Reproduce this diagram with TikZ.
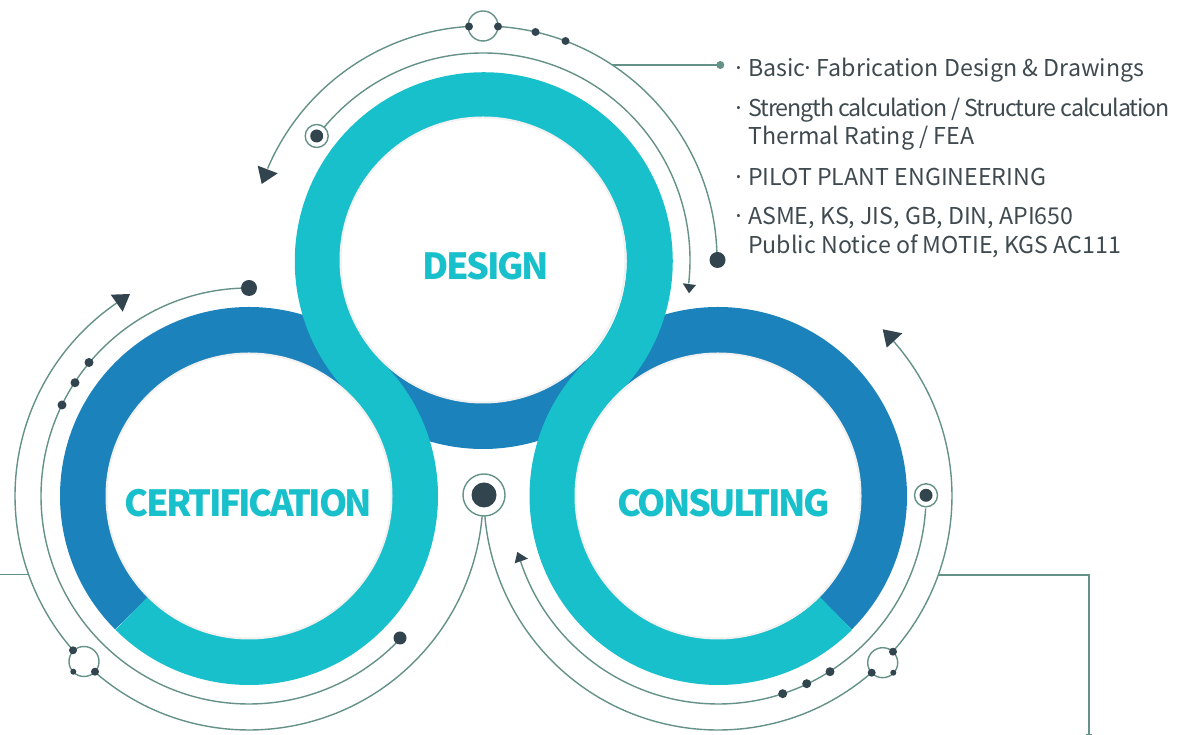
\documentclass[tikz,border=0pt]{standalone}
\usepackage{fontspec}
\setmainfont{Noto Sans CJK KR}
\newfontfamily\titlefont{Noto Sans CJK KR}[LetterSpace=-6.9]
\newfontfamily\tightfont{Noto Sans CJK KR}[LetterSpace=-4.7]
\definecolor{teal1}{HTML}{18C0CB}
\definecolor{blue1}{HTML}{1C82BB}
\definecolor{lineg}{HTML}{649188}
\definecolor{darkd}{HTML}{32454F}
\definecolor{txt}{HTML}{3F4A50}
\definecolor{rimg}{HTML}{F1F1F1}
\tikzset{
  ringblue/.style={draw=blue1,line width=46pt,line cap=butt},
  ringteal/.style={draw=teal1,line width=46pt,line cap=butt},
  core/.style={circle,fill=white,draw=rimg,line width=2pt,minimum size=285pt,inner sep=0pt},
  wire/.style={draw=lineg,line width=1.4pt},
  lead/.style={draw=lineg,line width=1.6pt},
  dotk/.style={fill=darkd,draw=none},
  title/.style={text=teal1,font=\titlefont\bfseries\fontsize{36}{36}\selectfont,inner sep=0pt,anchor=center},
  body/.style={text=txt,font=\fontsize{23.2}{29.5}\selectfont,inner sep=0pt,anchor=base west,align=left},
}
\begin{document}
\begin{tikzpicture}[x=1pt,y=1pt]
\useasboundingbox (0,0) rectangle (1177,735);
\coordinate (D) at (483,475);
\coordinate (C) at (249,239);
\coordinate (K) at (718,239);
% blue parts
\draw[ringblue] (C) ++(225:166) arc[start angle=225,end angle=45,radius=166];
\draw[ringblue] (K) ++(-45:166) arc[start angle=-45,end angle=135,radius=166];
\draw[ringblue] (D) ++(225:166) arc[start angle=225,end angle=315,radius=166];
% teal band
\draw[ringteal] (C) ++(225:166) arc[start angle=225,end angle=405,radius=166]
  arc[start angle=225,end angle=-45,radius=166]
  arc[start angle=135,end angle=315,radius=166];
\node[core] (coreD) at (D) {};
\node[core] (coreC) at (C) {};
\node[core] (coreK) at (K) {};
\node[title] (tD) at (485.5,468.5) {DESIGN};
\node[title] (tC) at (248.5,231.5) {CERTIFICATION};
\node[title] (tK) at (723.5,231.5) {CONSULTING};
% Design arcs
\draw[wire] (D) ++(93.6:234) arc[start angle=93.6,end angle=157,radius=234];
\draw[wire] (D) ++(86.4:234) arc[start angle=86.4,end angle=0,radius=234];
\draw[wire] (D) ++(140:207) arc[start angle=140,end angle=-6.5,radius=207];
\draw[wire] (483,709) circle[radius=15];
\fill[dotk] (469,708.5) circle[radius=4] (498,708.5) circle[radius=4] (535.5,703) circle[radius=4] (565.5,694) circle[radius=4];
\fill[dotk] (717.5,475) circle[radius=8];
\fill[darkd] (257.7,569.3) -- (277.7,561.7) -- (261.7,551) -- cycle;
\fill[darkd] (682.7,451.7) -- (696,450) -- (689,441.7) -- cycle;
\draw[wire,fill=white] (316.7,599) circle[radius=11.5];
\fill[dotk] (316.7,599) circle[radius=6.5];
\coordinate (leadA) at (612,670);
\coordinate (leadB) at (720.3,670);
\draw[lead] (leadA) -- (leadB);
\fill[lineg] (leadB) circle[radius=4];
% Certification arcs
\draw[wire] (C) ++(90:208) arc[start angle=90,end angle=317,radius=208];
\draw[wire] (C) ++(124.5:234) arc[start angle=124.5,end angle=221.2,radius=234];
\draw[wire] (C) ++(228.8:234) arc[start angle=228.8,end angle=355,radius=234];
\fill[dotk] (249,447) circle[radius=8];
\fill[dotk] (400,97) circle[radius=6.5];
\fill[dotk] (89,372.5) circle[radius=4.5] (75,352.3) circle[radius=4.5] (62,330) circle[radius=4.5];
\fill[darkd] (110.7,440.3) -- (130,441) -- (122.7,423.3) -- cycle;
\draw[wire] (84,73.5) circle[radius=15];
\fill[dotk] (73,84.7) circle[radius=4] (95,63.3) circle[radius=4] (73.3,63.3) circle[radius=3];
\coordinate (leadC) at (0,160.5);
\coordinate (leadD) at (28,160.5);
\draw[lead] (leadC) -- (leadD);
% Consulting arcs
\draw[wire] (K) ++(41.4:234) arc[start angle=41.4,end angle=-41.7,radius=234];
\draw[wire] (K) ++(-49:234) arc[start angle=-49,end angle=-175,radius=234];
\draw[wire] (K) ++(-3.4:208) arc[start angle=-3.4,end angle=-161.7,radius=208];
\fill[dotk] (830,63.3) circle[radius=4.5] (806.7,51.3) circle[radius=4.5] (782.7,41.3) circle[radius=4.5];
\fill[darkd] (882.7,405.7) -- (902.3,401.7) -- (886.7,387.3) -- cycle;
\fill[darkd] (517.3,183) -- (528,176.3) -- (514.7,171.7) -- cycle;
\draw[wire,fill=white] (926,239.7) circle[radius=11.5];
\fill[dotk] (926,239.7) circle[radius=6.5];
\draw[wire] (882.7,72.3) circle[radius=15];
\fill[dotk] (893,83.3) circle[radius=4] (871.7,62.3) circle[radius=4] (893.3,62.3) circle[radius=3];
\coordinate (leadE) at (939.3,160);
\coordinate (leadF) at (1089,160);
\coordinate (leadG) at (1089,0.5);
\draw[lead] (leadE) -- (leadF) -- (leadG);
\draw[lead] (1086,0.5) -- (1092,0.5);
% Centre marker
\draw[wire,fill=white] (484,240) circle[radius=21];
\fill[dotk] (484,240) circle[radius=12.5];
% text
\node[body] (b0) at (732,658.5) {·};
\node[body] (b1) at (748,658.5) {Basic\kern-4pt·\kern-3pt\ Fabrication Design \& Drawings};
\node[body] (b0b) at (732,618.5) {·};
\node[body] (b2) at (748,618.5) {\tightfont Strength calculation / Structure calculation};
\node[body] (b2b) at (748,590) {Thermal Rating / FEA};
\node[body] (b0c) at (732,549.7) {·};
\node[body] (b3) at (748,549.7) {PILOT PLANT ENGINEERING};
\node[body] (b0d) at (732,510) {·};
\node[body] (b4) at (748,510) {ASME, KS, JIS, GB, DIN, API650};
\node[body] (b4b) at (748,481.7) {Public Notice of MOTIE, KGS AC111};
\end{tikzpicture}
\end{document}
